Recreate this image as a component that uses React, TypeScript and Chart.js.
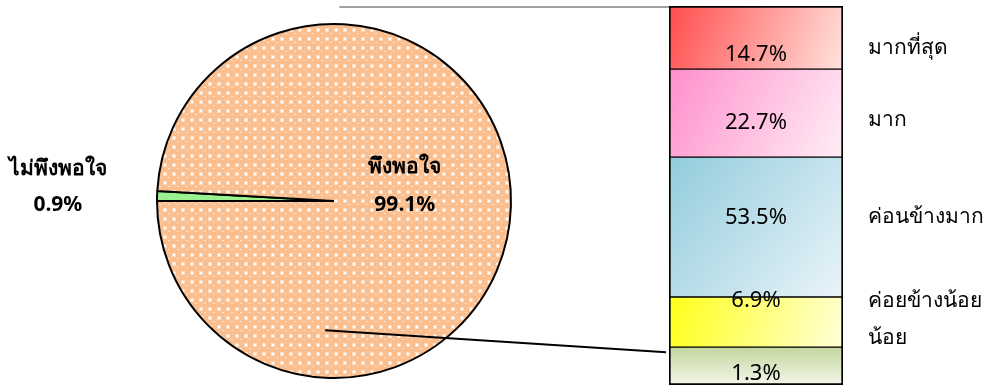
import { useEffect, useRef } from 'react';
import { Chart, registerables } from 'chart.js';

Chart.register(...registerables);

// ---- Data ----
const pieLabels = ['ไม่พึงพอใจ', 'พึงพอใจ'];
const pieValues = [0.9, 99.1];
const pieValueLabels = ['0.9%', '99.1%'];

// breakdown bar, listed bottom -> top
const barCategories = ['น้อย', 'ค่อยข้างน้อย', 'ค่อนข้างมาก', 'มาก', 'มากที่สุด'];
const barValueLabels = ['1.3%', '6.9%', '53.5%', '22.7%', '14.7%'];
const barSegmentSizes = [9.9, 13.1, 36.6, 23.0, 16.5];

// ---- Styles ----
const FONT = 'Tahoma, "Noto Sans", "DejaVu Sans", sans-serif';
const W = 984;
const H = 387;
const segGradients: [string, string][] = [
  ['#C4D69E', '#F3F6EA'],
  ['#FFFF1A', '#FFFFD8'],
  ['#92CCDC', '#EAF4F9'],
  ['#FF8FCB', '#FFEEF6'],
  ['#FF4D4D', '#FFE3DE'],
];
// vertical placement of texts inside each segment (fraction from segment top)
const valueLabelPos = [0.71, 0.08, 0.43, 0.61, 0.78];
const categoryLabelPos = [-0.24, 0.08, 0.43, 0.58, 0.67];

function makeDotPattern(): CanvasPattern | string {
  const c = document.createElement('canvas');
  c.width = 9;
  c.height = 9;
  const g = c.getContext('2d');
  if (!g) return '#FBBF8F';
  g.fillStyle = '#FBBF8F';
  g.fillRect(0, 0, 9, 9);
  g.fillStyle = 'rgba(255,255,255,0.45)';
  g.fillRect(1, 1, 4, 4);
  g.fillStyle = 'rgba(255,255,255,1)';
  g.fillRect(2, 2, 2, 2);
  g.fillStyle = 'rgba(255,255,255,0.6)';
  g.fillRect(6, 6, 2, 1);
  const p = g.createPattern(c, 'repeat');
  return p || '#FBBF8F';
}

export default function App() {
  const pieRef = useRef<HTMLCanvasElement | null>(null);
  const barRef = useRef<HTMLCanvasElement | null>(null);

  useEffect(() => {
    if (!pieRef.current || !barRef.current) return;

    const pieLabelPlugin = {
      id: 'pieLabels',
      afterDatasetsDraw(chart: any) {
        const arc = chart.getDatasetMeta(0).data[0];
        if (!arc) return;
        const { x, y, outerRadius: r } = arc;
        const ctx = chart.ctx;
        ctx.save();
        ctx.fillStyle = '#000';
        ctx.font = `bold 21px ${FONT}`;
        ctx.textAlign = 'center';
        ctx.textBaseline = 'middle';
        const offs = [
          [-1.56, -0.18, 0.02],
          [0.40, -0.19, 0.02],
        ];
        pieLabels.forEach((lab, i) => {
          const [dx, dy1, dy2] = offs[i];
          ctx.fillText(lab, x + dx * r, y + dy1 * r);
          ctx.fillText(pieValueLabels[i], x + dx * r, y + dy2 * r);
        });
        ctx.restore();
      },
    };

    const pie = new Chart(pieRef.current, {
      type: 'pie',
      data: {
        labels: pieLabels,
        datasets: [
          {
            data: pieValues,
            backgroundColor: ['#99F28F', makeDotPattern()],
            borderColor: '#000',
            borderWidth: 2,
          },
        ],
      },
      options: {
        responsive: false,
        animation: false,
        rotation: 270,
        radius: 177,
        layout: { padding: { left: 0, right: 316, top: 15, bottom: 0 } },
        plugins: { legend: { display: false }, tooltip: { enabled: false } },
      },
      plugins: [pieLabelPlugin],
    });

    const bgFor = (i: number) => (ctx: any) => {
      const chart = ctx.chart;
      const area = chart.chartArea;
      const ys = chart.scales && chart.scales.y;
      if (!area || !ys) return segGradients[i][0];
      const base = barSegmentSizes.slice(0, i).reduce((a, b) => a + b, 0);
      const yTop = ys.getPixelForValue(base + barSegmentSizes[i]);
      const yBot = ys.getPixelForValue(base);
      const g = i === 0
        ? chart.ctx.createLinearGradient(area.left, yTop, area.left, yBot)
        : chart.ctx.createLinearGradient(area.left, yTop, area.right, yBot);
      g.addColorStop(0, segGradients[i][0]);
      g.addColorStop(1, segGradients[i][1]);
      return g;
    };

    const n = barSegmentSizes.length;
    const barTextPlugin = {
      id: 'barTexts',
      afterDatasetsDraw(chart: any) {
        const ctx = chart.ctx;
        ctx.save();
        ctx.fillStyle = '#000';
        ctx.textBaseline = 'middle';
        for (let i = 0; i < n; i++) {
          const el = chart.getDatasetMeta(i).data[0];
          if (!el) continue;
          const top = el.y;
          const bottom = el.base;
          const h = bottom - top;
          ctx.font = `22px ${FONT}`;
          ctx.textAlign = 'center';
          ctx.fillText(barValueLabels[i], el.x, top + valueLabelPos[i] * h);
          ctx.font = `21px ${FONT}`;
          ctx.textAlign = 'left';
          ctx.fillText(barCategories[i], chart.chartArea.right + 25, top + categoryLabelPos[i] * h);
        }
        // connector lines to pie
        const arc = pie.getDatasetMeta(0).data[0] as any;
        if (arc) {
          const { x, y, outerRadius: r } = arc;
          const topEl = chart.getDatasetMeta(n - 1).data[0];
          const botEl = chart.getDatasetMeta(0).data[0];
          ctx.strokeStyle = '#808080';
          ctx.lineWidth = 1.5;
          ctx.beginPath();
          ctx.moveTo(x + 0.03 * r, topEl.y + 1);
          ctx.lineTo(chart.chartArea.left, topEl.y + 1);
          ctx.stroke();
          ctx.strokeStyle = '#000';
          ctx.lineWidth = 2;
          ctx.beginPath();
          ctx.moveTo(x - 0.05 * r, y + 0.73 * r);
          ctx.lineTo(chart.chartArea.left - 3, botEl.y + 5);
          ctx.stroke();
        }
        ctx.restore();
      },
    };

    const bar = new Chart(barRef.current, {
      type: 'bar',
      data: {
        labels: ['breakdown'],
        datasets: barCategories.map((cat, i) => ({
          label: cat,
          data: [barSegmentSizes[i]],
          backgroundColor: bgFor(i),
          borderColor: '#000',
          borderWidth: { left: 2, right: 2, top: i === n - 1 ? 2 : 1, bottom: i === 0 ? 2 : 1 },
          borderSkipped: false,
          barPercentage: 1,
          categoryPercentage: 1,
        })),
      },
      options: {
        responsive: false,
        animation: false,
        layout: { padding: { left: 669, right: 141, top: 6, bottom: 2 } },
        scales: {
          x: { display: false, stacked: true },
          y: {
            display: false,
            stacked: true,
            min: 0,
            max: barSegmentSizes.reduce((a, b) => a + b, 0),
          },
        },
        plugins: { legend: { display: false }, tooltip: { enabled: false } },
      },
      plugins: [barTextPlugin],
    });

    return () => {
      bar.destroy();
      pie.destroy();
    };
  }, []);

  const cstyle: any = { position: 'absolute', left: 0, top: 0, width: W, height: H, display: 'block' };
  return (
    <div style={{ position: 'fixed', left: 0, top: 0, width: W, height: H, background: '#fff' }}>
      <canvas ref={pieRef} width={W} height={H} style={cstyle} />
      <canvas ref={barRef} width={W} height={H} style={{ ...cstyle, pointerEvents: 'none' }} />
    </div>
  );
}
